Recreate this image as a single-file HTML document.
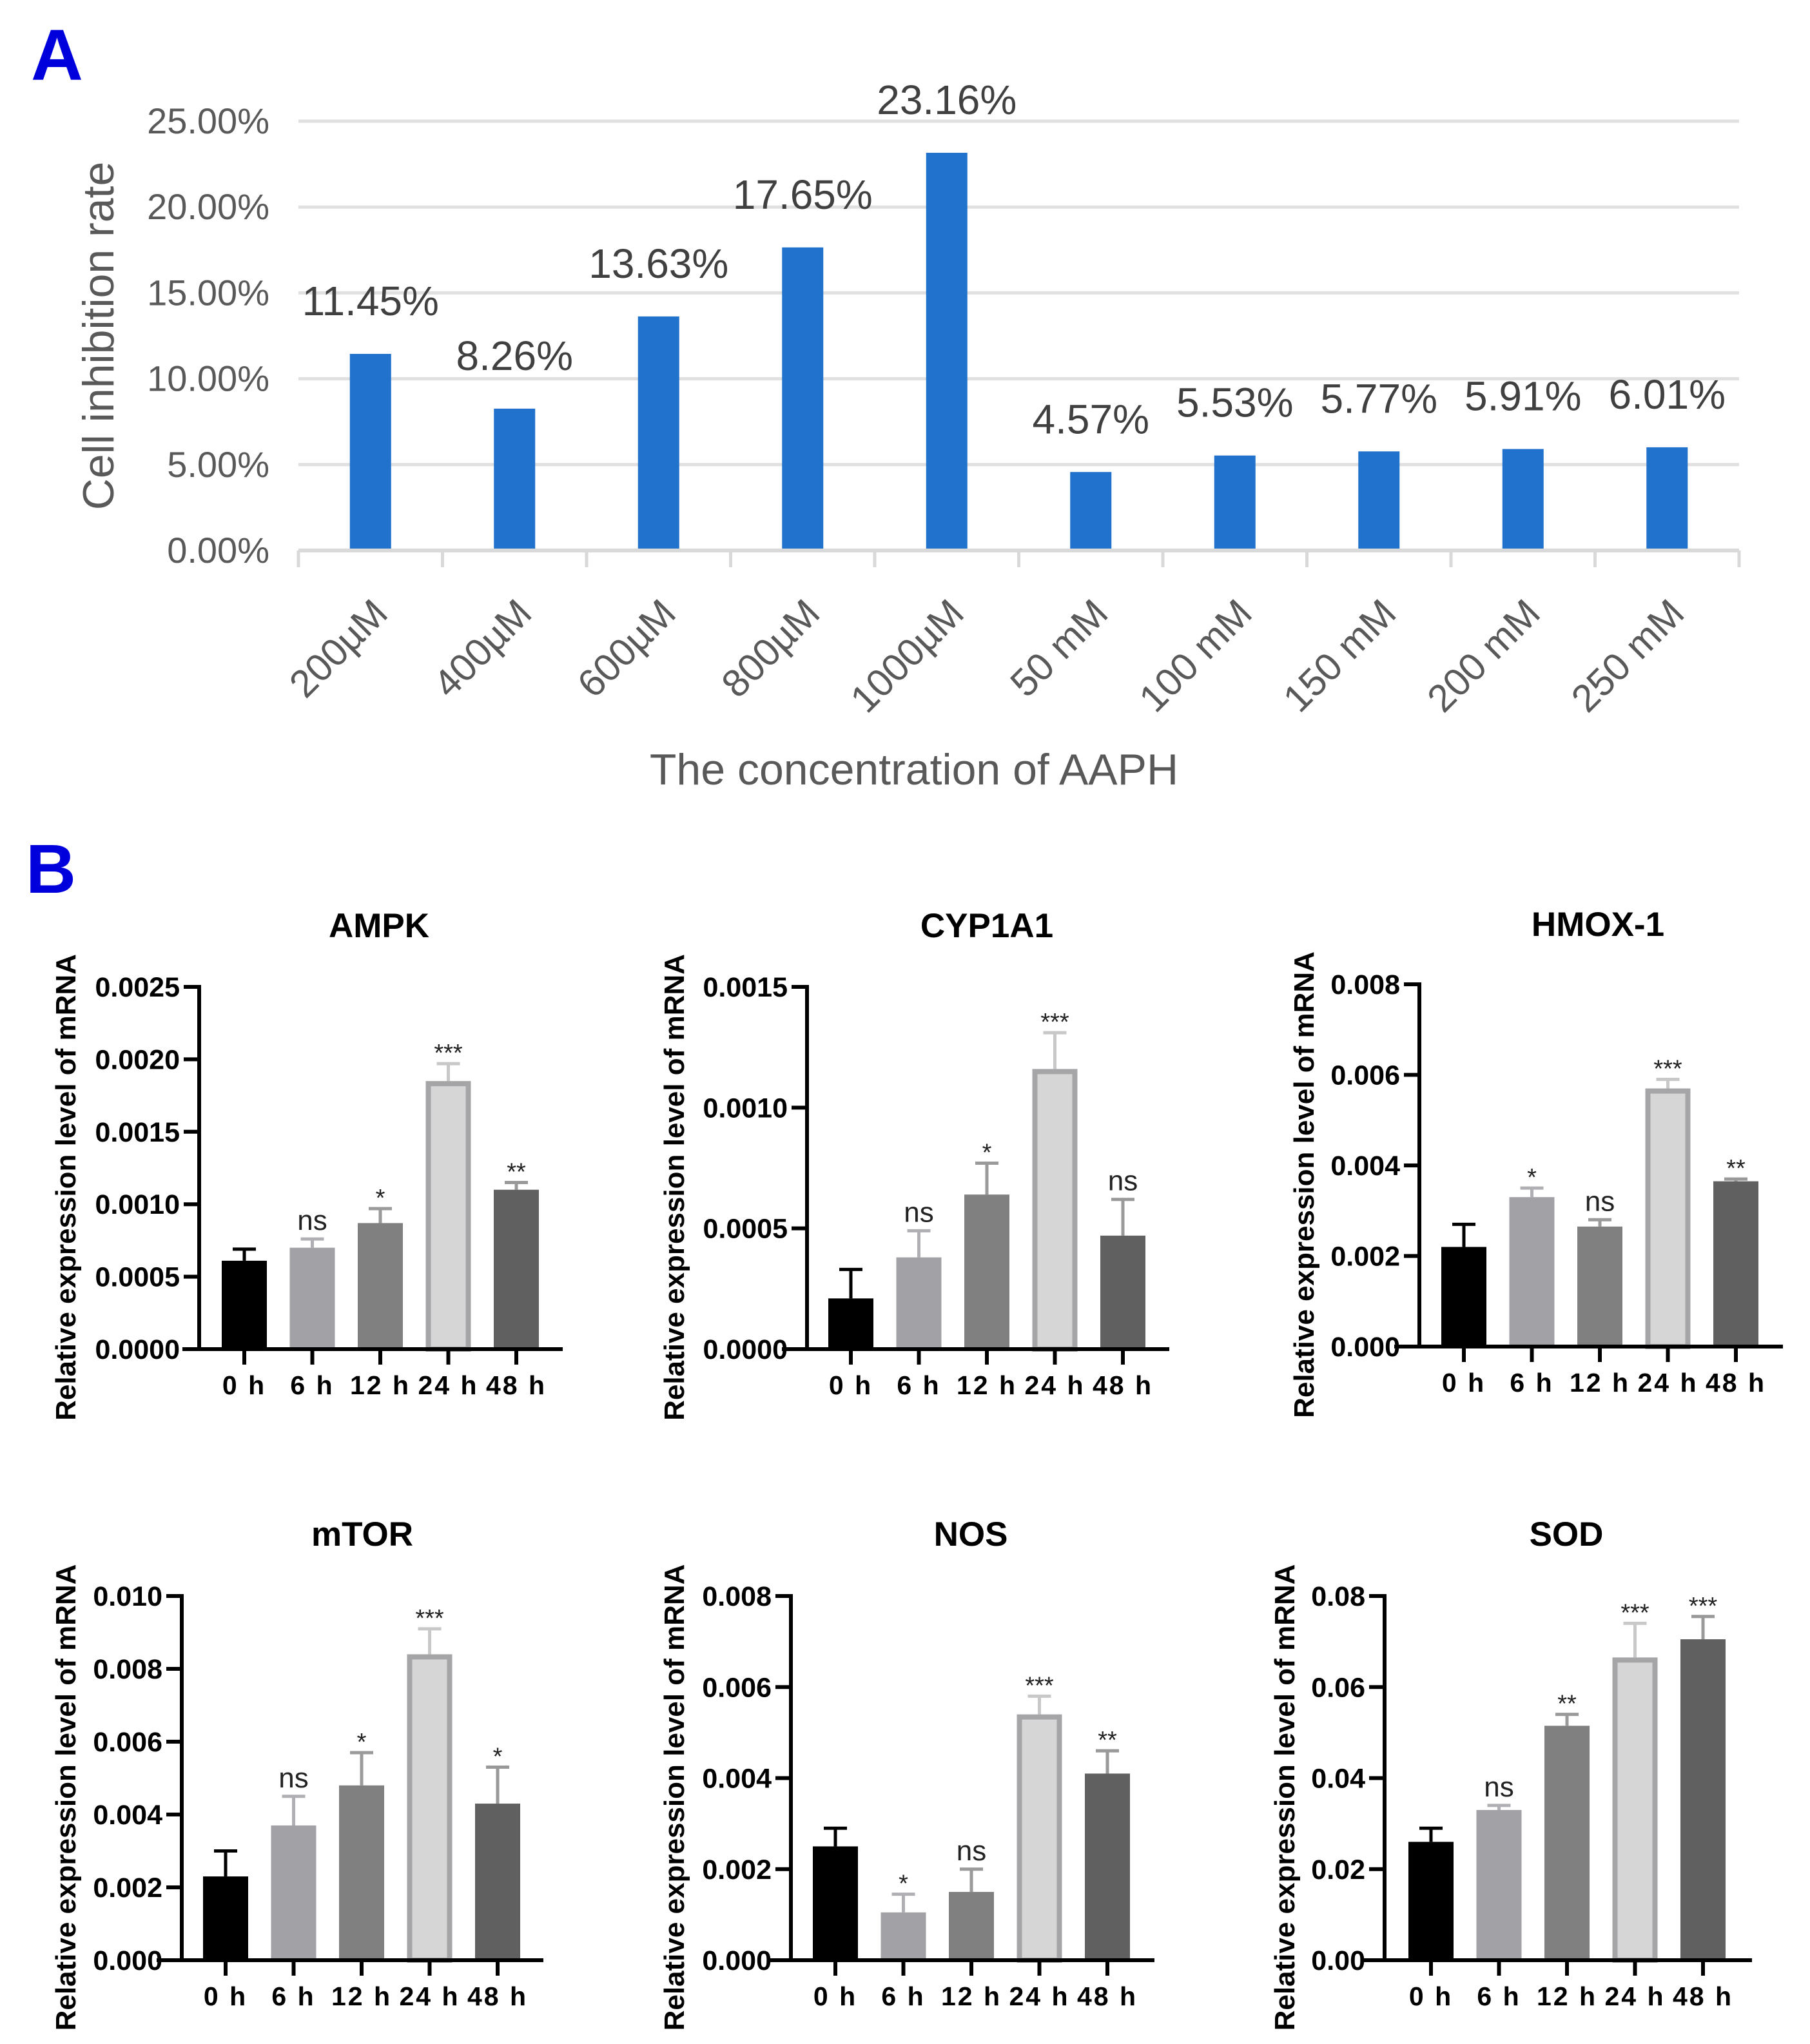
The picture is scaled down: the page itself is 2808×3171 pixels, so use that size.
<!DOCTYPE html>
<html><head><meta charset="utf-8">
<style>
html,body{margin:0;padding:0;background:#fff;}
svg{display:block;}
</style></head>
<body>
<svg id="fig" xmlns="http://www.w3.org/2000/svg" width="2808" height="3171" viewBox="0 0 2808 3171">
<rect x="0" y="0" width="2808" height="3171" fill="#fff"/>
<text x="48" y="124" font-family="Liberation Sans Narrow, Liberation Sans, sans-serif" font-weight="bold" font-size="112" fill="#0000dd">A</text>
<text x="40" y="1385" font-family="Liberation Sans, sans-serif" font-weight="bold" font-size="108" fill="#0000dd">B</text>
<g id="chartA"></g>
<g id="chartsB"></g>
</svg>
<script>
var NS='http://www.w3.org/2000/svg';
// ---- Panel A data ----
var aCategories=['200µM','400µM','600µM','800µM','1000µM','50 mM','100 mM','150 mM','200 mM','250 mM'];
var aValues=[11.45,8.26,13.63,17.65,23.16,4.57,5.53,5.77,5.91,6.01];
var aValueLabels=['11.45%','8.26%','13.63%','17.65%','23.16%','4.57%','5.53%','5.77%','5.91%','6.01%'];
var aTicks=[0,5,10,15,20,25];
var aTickLabels=['0.00%','5.00%','10.00%','15.00%','20.00%','25.00%'];

// ---- Panel B data ----
var bGenes=['AMPK','CYP1A1','HMOX-1','mTOR','NOS','SOD'];
var bTimes=['0 h','6 h','12 h','24 h','48 h'];
var ampkMean=[0.00061,0.00070,0.00087,0.00185,0.00110];
var ampkErr=[0.00008,0.00006,0.00010,0.00012,0.00005];
var ampkSig=['','ns','*','***','**'];
var cypMean=[0.00021,0.00038,0.00064,0.00116,0.00047];
var cypErr=[0.00012,0.00011,0.00013,0.00015,0.00015];
var cypSig=['','ns','*','***','ns'];
var hmoxMean=[0.0022,0.0033,0.00265,0.0057,0.00365];
var hmoxErr=[0.0005,0.0002,0.00015,0.0002,0.00005];
var hmoxSig=['','*','ns','***','**'];
var mtorMean=[0.0023,0.0037,0.0048,0.0084,0.0043];
var mtorErr=[0.0007,0.0008,0.0009,0.0007,0.0010];
var mtorSig=['','ns','*','***','*'];
var nosMean=[0.0025,0.00105,0.0015,0.0054,0.0041];
var nosErr=[0.0004,0.0004,0.0005,0.0004,0.0005];
var nosSig=['','*','ns','***','**'];
var sodMean=[0.026,0.033,0.0515,0.0665,0.0705];
var sodErr=[0.003,0.001,0.0025,0.0075,0.005];
var sodSig=['','ns','**','***','***'];
var ampkTicks=['0.0000','0.0005','0.0010','0.0015','0.0020','0.0025'];
var cypTicks=['0.0000','0.0005','0.0010','0.0015'];
var hmoxTicks=['0.000','0.002','0.004','0.006','0.008'];
var mtorTicks=['0.000','0.002','0.004','0.006','0.008','0.010'];
var nosTicks=['0.000','0.002','0.004','0.006','0.008'];
var sodTicks=['0.00','0.02','0.04','0.06','0.08'];

function mk(tag,attrs,parent,txt){
  var e=document.createElementNS(NS,tag);
  for(var k in attrs) e.setAttribute(k,attrs[k]);
  if(txt!==undefined) e.textContent=txt;
  parent.appendChild(e); return e;
}

// ---- draw panel A ----
(function(){
  var g=document.getElementById('chartA');
  var x0=463,x1=2698,y0=854,yTop=188,vmax=25;
  var step=(x1-x0)/aCategories.length;
  function yS(v){return y0-(v/vmax)*(y0-yTop);}
  function xC(i){return x0+(i+0.5)*step;}
  var FONT='Liberation Sans, sans-serif';
  aTicks.forEach(function(t,i){
    if(t>0){
      var l=mk('line',{x1:x0,x2:x1,y1:yS(t),y2:yS(t),stroke:'#e0e0e0','stroke-width':5},g);
      
      
    }
    var tx=mk('text',{x:418,y:yS(t)+19,'text-anchor':'end','font-family':FONT,'font-size':56,fill:'#595959'},g,aTickLabels[i]);
    
    
  });
  aCategories.forEach(function(c,i){
    var cx=xC(i),top=yS(aValues[i]);
    var r=mk('rect',{x:cx-32,y:top,width:64,height:y0-top,fill:'#2172cc'},g);
    
    
    var vl=mk('text',{x:cx,y:top-60,'text-anchor':'middle','font-family':FONT,'font-size':64,fill:'#404040'},g,aValueLabels[i]);
    
    
    var xl=mk('text',{x:cx+30,y:955,'text-anchor':'end','font-family':FONT,'font-size':60,fill:'#595959',transform:'rotate(-45 '+(cx+30)+' 955)'},g,c);
    
    
  });
  var ax=mk('line',{x1:x0,x2:x1,y1:y0,y2:y0,stroke:'#d9d9d9','stroke-width':6},g);
  
  
  for(var i=0;i<=aCategories.length;i++){
    var tk=mk('line',{x1:x0+i*step,x2:x0+i*step,y1:y0,y2:880,stroke:'#d9d9d9','stroke-width':5},g);
    
    
  }
  var yt=mk('text',{x:0,y:0,'text-anchor':'middle','font-family':FONT,'font-size':68,fill:'#595959',transform:'translate(176 521) rotate(-90)'},g,'Cell inhibition rate');
  
  
  var xt=mk('text',{x:1418,y:1217,'text-anchor':'middle','font-family':FONT,'font-size':68,fill:'#595959'},g,'The concentration of AAPH');
  
  
})();

// ---- draw panel B ----
var fills=['#000000','#a2a2a6','#808080','#d6d6d6','#606060'];
var errCols=['#000000','#b0b0b4','#9a9a9a','#c8c8c8','#999999'];
var panels=[
 {mean:ampkMean,err:ampkErr,sig:ampkSig,ticks:ampkTicks,max:0.0025,ax:309,xs:283,xe:873,c0:379,top:1531,zero:2093,tx:588,ty:1446,ytx:101},
 {mean:cypMean,err:cypErr,sig:cypSig,ticks:cypTicks,max:0.0015,ax:1252,xs:1213,xe:1814,c0:1320,top:1531,zero:2093,tx:1531,ty:1446,ytx:1045},
 {mean:hmoxMean,err:hmoxErr,sig:hmoxSig,ticks:hmoxTicks,max:0.008,ax:2202,xs:2163,xe:2766,c0:2271,top:1527,zero:2089,tx:2479,ty:1444,ytx:2022},
 {mean:mtorMean,err:mtorErr,sig:mtorSig,ticks:mtorTicks,max:0.010,ax:282,xs:243,xe:843,c0:350,top:2476,zero:3041,tx:562,ty:2390,ytx:101},
 {mean:nosMean,err:nosErr,sig:nosSig,ticks:nosTicks,max:0.008,ax:1227,xs:1193,xe:1791,c0:1296,top:2476,zero:3041,tx:1506,ty:2390,ytx:1045},
 {mean:sodMean,err:sodErr,sig:sodSig,ticks:sodTicks,max:0.08,ax:2148,xs:2113,xe:2718,c0:2220,top:2476,zero:3041,tx:2430,ty:2390,ytx:1992}
];
var spacing=105.5;
var root=document.getElementById('chartsB');
var BF='Liberation Sans, Arial, sans-serif';
panels.forEach(function(p,pi){
  var g=mk('g',{},root);
  
  
  function yS(v){return p.zero-(v/p.max)*(p.zero-p.top);}
  var t=mk('text',{x:p.tx,y:p.ty+8,'text-anchor':'middle','font-family':BF,'font-weight':'bold','font-size':53,fill:'#000'},g,bGenes[pi]);
  
  
  var yt=mk('text',{x:0,y:0,'text-anchor':'middle','font-family':BF,'font-weight':'bold','font-size':44,fill:'#000',transform:'translate('+(p.ytx+16)+' '+((p.top+p.zero)/2+30)+') rotate(-90)'},g,'Relative expression level of mRNA');
  
  
  var n=p.ticks.length-1;
  p.ticks.forEach(function(lab,i){
    var v=p.max*i/n,y=yS(v);
    var tk=mk('line',{x1:p.ax-24,x2:p.ax,y1:y,y2:y,stroke:'#000','stroke-width':6},g);
    
    
    var tl=mk('text',{x:p.ax-30,y:y+15,'text-anchor':'end','font-family':BF,'font-weight':'bold','font-size':43,fill:'#000'},g,lab);
    
    
  });
  bTimes.forEach(function(tm,i){
    var cx=p.c0+i*spacing,top=yS(p.mean[i]),et=yS(p.mean[i]+p.err[i]);
    var el=mk('line',{x1:cx,x2:cx,y1:top,y2:et,stroke:errCols[i],'stroke-width':5},g);
    
    
    var cp=mk('line',{x1:cx-18,x2:cx+18,y1:et,y2:et,stroke:errCols[i],'stroke-width':5},g);
    
    
    var r;
    if(i===3){
      r=mk('rect',{x:cx-31,y:top+4,width:62,height:p.zero-top-4,fill:fills[i],stroke:'#a5a5a8','stroke-width':8},g);
    } else {
      r=mk('rect',{x:cx-35,y:top,width:70,height:p.zero-top,fill:fills[i]},g);
    }
    
    
    if(p.sig[i]){
      var isNs=p.sig[i]==='ns';
      var s=mk('text',{x:cx,y:isNs?et-14:et-4,'text-anchor':'middle','font-family':BF,'font-size':isNs?44:38,fill:'#222'},g,p.sig[i]);
      
      
    }
    var xt=mk('line',{x1:cx,x2:cx,y1:p.zero,y2:p.zero+24,stroke:'#000','stroke-width':6},g);
    
    
    var xl=mk('text',{x:cx,y:p.zero+70,'text-anchor':'middle','font-family':BF,'font-weight':'bold','font-size':41,'letter-spacing':'3',fill:'#000'},g,tm);
    
    
  });
  var ya=mk('line',{x1:p.ax,x2:p.ax,y1:p.top-3,y2:p.zero,stroke:'#000','stroke-width':6},g);
  
  
  var xa=mk('line',{x1:p.xs,x2:p.xe,y1:p.zero,y2:p.zero,stroke:'#000','stroke-width':6},g);
  
  
});
</script>
</body></html>
